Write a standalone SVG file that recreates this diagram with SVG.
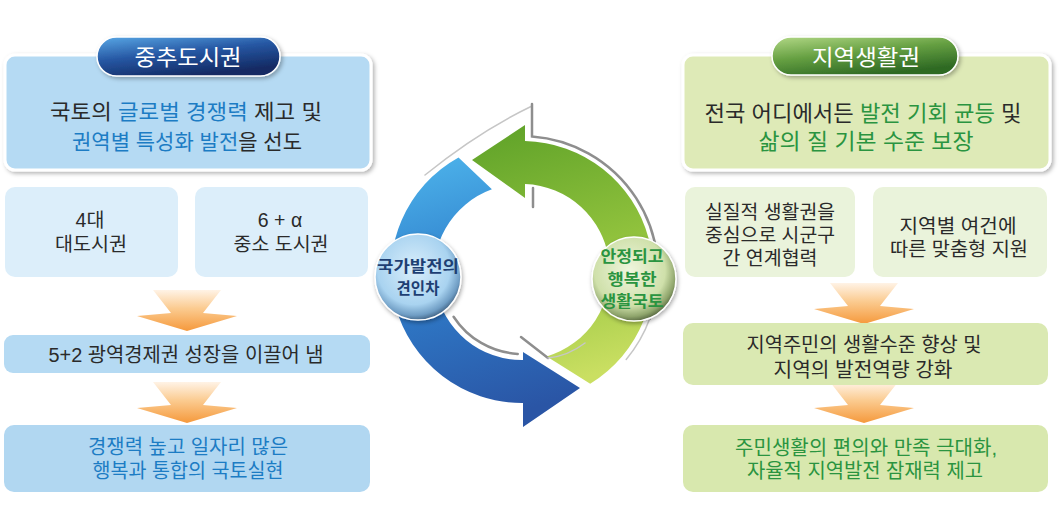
<svg xmlns="http://www.w3.org/2000/svg" width="1063" height="509" viewBox="0 0 1063 509">
<style>
text { font-family: "Liberation Sans", "Noto Sans CJK KR", sans-serif; text-anchor: middle; fill: #2a2a2a; }
.t22 { font-size: 22px; }
.t21 { font-size: 21px; }
.t20 { font-size: 20px; }
.t19 { font-size: 19.5px; }
.pill { font-size: 22px; fill: #ffffff; }
.node { font-size: 15.5px; font-weight: bold; }
.blue { fill: #1c7cc4; }
.green { fill: #2a9440; }
.navy { fill: #1e3f73; }
.gline { fill: none; stroke: #8e8e8e; stroke-width: 2.5; stroke-linecap: round; }
.lline { fill: none; stroke: #c6c6c6; stroke-width: 1.5; stroke-linecap: round; }
</style>
<defs>
  <filter id="shadow" x="-10%" y="-10%" width="120%" height="130%">
    <feDropShadow dx="2" dy="2" stdDeviation="2" flood-color="#000" flood-opacity="0.3"/>
  </filter>
  <filter id="nshadow" x="-20%" y="-20%" width="140%" height="140%">
    <feDropShadow dx="1" dy="2" stdDeviation="2" flood-color="#000" flood-opacity="0.35"/>
  </filter>
  <linearGradient id="pillBlue" x1="0" y1="0" x2="0.5" y2="1">
    <stop offset="0" stop-color="#59a8e6"/>
    <stop offset="0.5" stop-color="#2657a3"/>
    <stop offset="1" stop-color="#132a63"/>
  </linearGradient>
  <linearGradient id="pillGreen" x1="0" y1="0" x2="0.5" y2="1">
    <stop offset="0" stop-color="#b2d886"/>
    <stop offset="0.5" stop-color="#66a042"/>
    <stop offset="1" stop-color="#2f6a24"/>
  </linearGradient>
  <linearGradient id="orange" x1="0" y1="0" x2="0" y2="1">
    <stop offset="0" stop-color="#fff3e6"/>
    <stop offset="0.45" stop-color="#fbcb90"/>
    <stop offset="1" stop-color="#f5993c"/>
  </linearGradient>
  <linearGradient id="blueArc" x1="0.2" y1="0" x2="0.4" y2="1">
    <stop offset="0" stop-color="#4cb2ea"/>
    <stop offset="0.45" stop-color="#2f7ecb"/>
    <stop offset="1" stop-color="#2a55a5"/>
  </linearGradient>
  <linearGradient id="greenArc" x1="0.3" y1="0" x2="0.5" y2="1">
    <stop offset="0" stop-color="#62a42a"/>
    <stop offset="0.5" stop-color="#8fc13c"/>
    <stop offset="1" stop-color="#cadf62"/>
  </linearGradient>
  <radialGradient id="nodeBlue" cx="0.45" cy="0.4" r="0.62">
    <stop offset="0" stop-color="#d9eefb"/>
    <stop offset="0.68" stop-color="#a9d3f0"/>
    <stop offset="0.88" stop-color="#6f9dc4"/>
    <stop offset="1" stop-color="#3b5a7a"/>
  </radialGradient>
  <radialGradient id="nodeGreen" cx="0.45" cy="0.4" r="0.62">
    <stop offset="0" stop-color="#eff6de"/>
    <stop offset="0.68" stop-color="#cfe0aa"/>
    <stop offset="0.88" stop-color="#8fa56c"/>
    <stop offset="1" stop-color="#4f5f3a"/>
  </radialGradient>
  <path id="downArrow" d="M -34 0 L 34 0 L 16 23 L 50 26 L 0 41 L -50 26 L -16 23 Z" fill="url(#orange)"/>
</defs>

<!-- connectors: flow arrows and cycle -->
<g id="connectors">
  <use href="#downArrow" x="187" y="290"/>
  <use href="#downArrow" x="187" y="382"/>
  <use href="#downArrow" x="864" y="283"/>
  <use href="#downArrow" x="864" y="382"/>
  <path id="greenCycle" d="M 590.2 383.8 A 131 131 0 0 0 525 141 L 525 125 L 472 160 L 525 198 L 525 184.1 A 88 88 0 0 1 546.8 356.4 Z" fill="url(#greenArc)"/>
  <path id="blueCycle" d="M 458.5 157.4 A 131 131 0 0 0 523 403 L 523 427 L 580 388 L 523 352 L 523 360 A 88 88 0 0 1 491.9 189.3 Z" fill="url(#blueArc)"/>
  <path class="lline" d="M 532 106 Q 478 132 425 175"/>
  <path class="gline" d="M 532 104 L 532 136.4 A 136 136 0 0 1 649.8 318.5"/>
  <path class="lline" d="M 649.8 318.5 A 136 136 0 0 1 626.2 359.4"/>
  <path class="gline" d="M 533 188 L 533 207"/>
  <path class="gline" d="M 453.6 316.7 A 82 82 0 0 0 517.7 353.9"/>
  <path class="gline" d="M 521 337 L 548 358"/>
  <path class="lline" d="M 548 358 Q 568 356 585 343"/>
</g>

<!-- LEFT COLUMN -->
<g id="left-top">
  <rect x="5" y="55" width="366" height="115" rx="10" fill="#b5daf3" stroke="#ffffff" stroke-width="3" filter="url(#shadow)"/>
  <text class="t21" x="186" y="119" textLength="272" lengthAdjust="spacingAndGlyphs">국토의 <tspan class="blue">글로벌 경쟁력</tspan> 제고 및</text>
  <text class="t21" x="187" y="148.5" textLength="230" lengthAdjust="spacingAndGlyphs"><tspan class="blue">권역별 특성화 발전</tspan>을 선도</text>
</g>
<g id="left-title">
  <rect x="97" y="37" width="183" height="39" rx="19.5" fill="url(#pillBlue)" stroke="#ffffff" stroke-width="1.5" filter="url(#shadow)"/>
  <text class="pill" x="188" y="65" textLength="107" lengthAdjust="spacingAndGlyphs">중추도시권</text>
</g>
<g id="left-sub1">
  <rect x="5" y="187" width="173" height="90" rx="10" fill="#dceefa"/>
  <text class="t19" x="90" y="227">4대</text>
  <text class="t19" x="91" y="251" textLength="72" lengthAdjust="spacingAndGlyphs">대도시권</text>
</g>
<g id="left-sub2">
  <rect x="195" y="187" width="173" height="90" rx="10" fill="#dceefa"/>
  <text class="t19" x="280" y="227">6 + α</text>
  <text class="t19" x="281" y="251" textLength="95" lengthAdjust="spacingAndGlyphs">중소 도시권</text>
</g>
<g id="left-mid">
  <rect x="4" y="335" width="366" height="38" rx="9" fill="#b5daf3"/>
  <text class="t20" x="186" y="362" textLength="275" lengthAdjust="spacingAndGlyphs">5+2 광역경제권 성장을 이끌어 냄</text>
</g>
<g id="left-bottom">
  <rect x="4" y="425" width="366" height="67" rx="10" fill="#b1d7f1"/>
  <text class="t20 blue" x="188" y="454" textLength="200" lengthAdjust="spacingAndGlyphs">경쟁력 높고 일자리 많은</text>
  <text class="t20 blue" x="188" y="478" textLength="191" lengthAdjust="spacingAndGlyphs">행복과 통합의 국토실현</text>
</g>

<!-- RIGHT COLUMN -->
<g id="right-top">
  <rect x="683" y="55" width="367" height="115" rx="10" fill="#deeab7" stroke="#ffffff" stroke-width="3" filter="url(#shadow)"/>
  <text class="t22" x="863" y="121" textLength="317" lengthAdjust="spacingAndGlyphs">전국 어디에서든 <tspan class="green">발전 기회 균등</tspan> 및</text>
  <text class="t22 green" x="866" y="149" textLength="215" lengthAdjust="spacingAndGlyphs">삶의 질 기본 수준 보장</text>
</g>
<g id="right-title">
  <rect x="772" y="37" width="186" height="38" rx="19" fill="url(#pillGreen)" stroke="#ffffff" stroke-width="1.5" filter="url(#shadow)"/>
  <text class="pill" x="866" y="65" textLength="108" lengthAdjust="spacingAndGlyphs">지역생활권</text>
</g>
<g id="right-sub1">
  <rect x="685" y="187" width="170" height="90" rx="10" fill="#eaf3db"/>
  <text class="t19" x="770" y="219" textLength="130" lengthAdjust="spacingAndGlyphs">실질적 생활권을</text>
  <text class="t19" x="770" y="242" textLength="130" lengthAdjust="spacingAndGlyphs">중심으로 시군구</text>
  <text class="t19" x="770" y="265" textLength="95" lengthAdjust="spacingAndGlyphs">간 연계협력</text>
</g>
<g id="right-sub2">
  <rect x="873" y="187" width="174" height="90" rx="10" fill="#eaf3db"/>
  <text class="t19" x="958" y="233" textLength="117" lengthAdjust="spacingAndGlyphs">지역별 여건에</text>
  <text class="t19" x="959" y="256" textLength="138" lengthAdjust="spacingAndGlyphs">따른 맞춤형 지원</text>
</g>
<g id="right-mid">
  <rect x="683" y="323" width="365" height="62" rx="10" fill="#dae9b2"/>
  <text class="t20" x="864" y="352" textLength="235" lengthAdjust="spacingAndGlyphs">지역주민의 생활수준 향상 및</text>
  <text class="t20" x="863" y="377" textLength="179" lengthAdjust="spacingAndGlyphs">지역의 발전역량 강화</text>
</g>
<g id="right-bottom">
  <rect x="683" y="425" width="365" height="67" rx="10" fill="#d8e8ae"/>
  <text class="t20 green" x="866" y="455" textLength="262" lengthAdjust="spacingAndGlyphs">주민생활의 편의와 만족 극대화,</text>
  <text class="t20 green" x="865" y="478" textLength="236" lengthAdjust="spacingAndGlyphs">자율적 지역발전 잠재력 제고</text>
</g>

<!-- CENTER NODES -->
<g id="node-left">
  <circle cx="418" cy="277" r="43" fill="url(#nodeBlue)" stroke="#ffffff" stroke-width="1.5" filter="url(#nshadow)"/>
  <text class="node navy" x="418" y="272" textLength="82" lengthAdjust="spacingAndGlyphs">국가발전의</text>
  <text class="node navy" x="418" y="294">견인차</text>
</g>
<g id="node-right">
  <circle cx="634" cy="279" r="42" fill="url(#nodeGreen)" stroke="#ffffff" stroke-width="1.5" filter="url(#nshadow)"/>
  <text class="node green" x="632" y="262" textLength="63" lengthAdjust="spacingAndGlyphs">안정되고</text>
  <text class="node green" x="632" y="285" textLength="49" lengthAdjust="spacingAndGlyphs">행복한</text>
  <text class="node green" x="632" y="307" textLength="63" lengthAdjust="spacingAndGlyphs">생활국토</text>
</g>
</svg>
